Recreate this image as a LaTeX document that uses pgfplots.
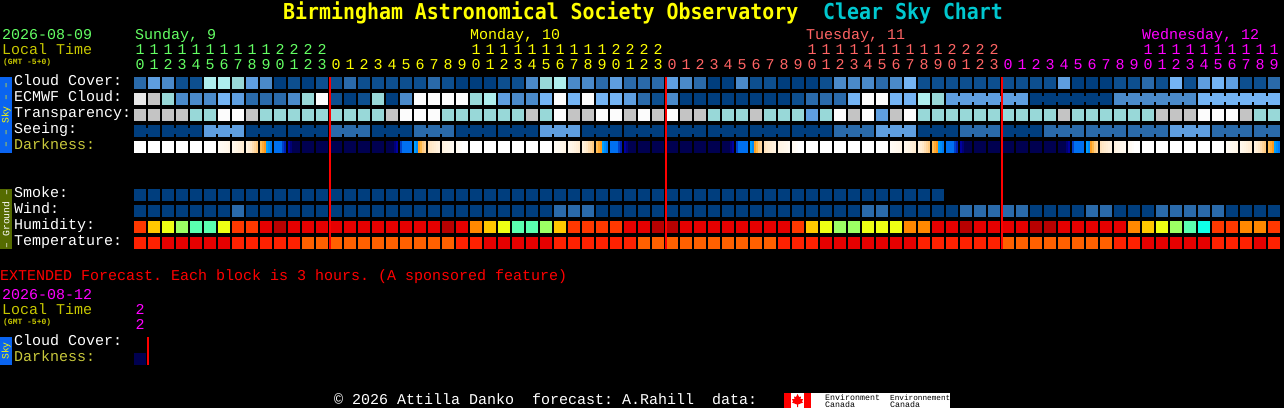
\documentclass[border=0pt]{standalone}
\usepackage{fontspec}
\setmainfont{Liberation Mono}
\newfontfamily\titlefont{DejaVu Sans Mono}
\usepackage{pgfplots}
\usepackage{pgfplotstable}
\pgfplotsset{compat=1.18}

\definecolor{daygreen}{RGB}{100,255,100}
\definecolor{dayyellow}{RGB}{255,255,0}
\definecolor{daypink}{RGB}{255,100,100}
\definecolor{daymag}{RGB}{255,0,255}
\definecolor{dimyellow}{RGB}{200,200,0}
\definecolor{darklabel}{RGB}{200,200,60}
\definecolor{skybar}{RGB}{10,100,240}
\definecolor{groundbar}{RGB}{85,107,0}
\definecolor{titlecyan}{RGB}{0,200,208}

% 0-10 sky scale, 11-19 humidity, 12/20/21 temperature
\pgfplotsset{colormap={csc}{
  rgb255=(0,62,126) rgb255=(13,79,143) rgb255=(42,106,170) rgb255=(74,138,202)
  rgb255=(94,158,224) rgb255=(116,180,244) rgb255=(152,216,216) rgb255=(174,238,238)
  rgb255=(196,196,196) rgb255=(232,232,232) rgb255=(252,252,252)
  rgb255=(184,0,0) rgb255=(230,0,0) rgb255=(255,56,0) rgb255=(255,136,0)
  rgb255=(255,200,0) rgb255=(238,255,20) rgb255=(156,255,100) rgb255=(90,255,176)
  rgb255=(15,255,232) rgb255=(255,32,0) rgb255=(255,96,0)}}
% darkness runs 0-10, the axis meta range is 0-21
\pgfplotsset{colormap={cscdark}{
  rgb255(0pt)=(0,0,80) rgb255(1pt)=(0,0,160) rgb255(2pt)=(0,64,200) rgb255(3pt)=(0,112,240)
  rgb255(4pt)=(0,160,255) rgb255(5pt)=(255,152,24) rgb255(6pt)=(255,184,72) rgb255(7pt)=(255,208,144)
  rgb255(8pt)=(255,232,200) rgb255(9pt)=(255,245,230) rgb255(10pt)=(255,255,255) rgb255(21pt)=(255,255,255)}}

\pgfdeclareplotmark{cell}{\pgfpathrectangle{\pgfpoint{-6pt}{-6pt}}{\pgfpoint{12pt}{12pt}}\pgfusepathqfill}
\pgfdeclareplotmark{slice}{\pgfpathrectangle{\pgfpoint{-1.2pt}{-6pt}}{\pgfpoint{2.4pt}{12pt}}\pgfusepathqfill}
\pgfdeclareplotmark{bridge}{\pgfpathrectangle{\pgfpoint{-1.2pt}{-3pt}}{\pgfpoint{2.4pt}{6pt}}\pgfusepathqfill}

\pgfplotsset{
  canvas/.style={
    at={(0pt,0pt)}, anchor=north west,
    width=1284pt, height=408pt, scale only axis,
    xmin=-10, xmax=81.7142857,
    ymin=-5.1875, ymax=20.3125,
    y dir=reverse,
    point meta min=0, point meta max=21,
    hide axis, clip=false},
  blocks/.style={only marks, scatter, mark=#1, point meta=explicit,
    scatter/use mapped color={fill=mapped color}},
  sky/.style={blocks=cell, colormap name=csc},
  joins/.style={blocks=bridge, colormap name=csc},
  dusk/.style={blocks=slice, colormap name=cscdark},
}

% i = hour block, sj/ej = block joined to the next one (3 hour seeing, 6 hour ecmwf)
\pgfplotstableread{
i  cloud ecmwf transp seeing smoke wind humid temp sj ej
0  2  9  8  0 0 0 13 20 1 0
1  4  8  8  0 0 0 15 20 0 0
2  3  6  8  0 0 0 16 12 1 0
3  1  3  8  0 0 0 17 12 1 0
4  1  3  6  0 0 0 18 12 0 0
5  7  3  6  4 0 0 18 12 1 0
6  7  5  10 4 0 0 16 12 1 0
7  6  4  10 4 0 2 13 20 0 0
8  4  2  8  0 0 0 13 20 1 0
9  3  2  6  0 0 0 12 20 1 0
10 0  2  6  0 0 0 11 20 0 0
11 1  3  6  0 0 0 12 20 1 0
12 0  6  6  0 0 0 12 21 1 0
13 1  10 6  0 0 0 12 21 0 0
14 1  1  6  2 0 0 12 21 1 0
15 2  0  6  2 0 0 12 21 1 0
16 1  1  6  2 0 0 12 21 0 0
17 1  6  6  0 0 0 12 21 1 0
18 1  0  8  0 0 0 12 21 1 0
19 1  3  10 0 0 0 12 21 0 0
20 1  10 10 2 0 0 12 21 1 0
21 2  10 10 2 0 0 12 21 1 0
22 1  10 6  2 0 0 11 21 0 0
23 0  10 6  0 0 0 12 20 1 0
24 0  6  6  0 0 0 14 20 1 0
25 0  7  6  0 0 0 15 12 0 0
26 1  4  6  0 0 0 16 12 1 0
27 1  3  6  0 0 0 18 12 1 0
28 3  3  8  0 0 0 18 12 0 0
29 6  5  6  4 0 0 17 12 1 0
30 7  10 10 4 0 2 15 20 1 0
31 3  5  8  4 0 2 13 20 0 0
32 3  10 8  0 0 2 13 20 1 0
33 2  5  10 0 0 0 13 20 1 0
34 4  5  10 0 0 0 13 20 0 0
35 2  4  8  0 0 0 12 20 1 0
36 2  2  10 0 0 0 12 21 1 0
37 2  1  8  0 0 0 11 21 0 0
38 4  3  10 0 0 0 11 21 1 0
39 3  0  8  0 0 0 12 21 1 0
40 2  0  8  0 0 0 12 21 0 0
41 0  0  6  0 0 0 12 21 1 0
42 0  0  6  0 0 0 12 21 1 0
43 3  0  6  0 0 0 12 21 0 0
44 1  0  8  0 0 0 12 21 1 0
45 1  0  6  0 0 0 12 21 1 0
46 0  0  6  0 0 0 12 20 0 0
47 0  1  6  0 0 0 13 20 1 0
48 0  2  4  0 0 0 15 20 1 0
49 1  2  6  0 0 0 16 12 0 0
50 3  2  10 2 0 0 17 12 1 0
51 3  5  8  2 0 0 17 12 1 0
52 3  10 10 2 0 2 16 12 0 0
53 2  10 4  4 0 2 16 12 1 0
54 3  5  8  4 0 0 16 12 1 0
55 5  5  10 4 0 0 14 12 0 0
56 1  7  6  0 0 0 14 20 1 0
57 1  6  6  0 0 0 12 20 1 0
58 1  4  6  0 0 0 12 20 0 1
59 1  4  6  2 0 2 11 20 1 1
60 1  4  6  2 0 2 12 20 1 1
61 1  4  6  2 0 2 12 20 0 1
62 1  4  6  0 0 2 12 21 1 1
63 1  4  6  0 0 2 12 21 1 0
64 1  0  6  0 0 0 11 21 0 1
65 1  0  6  2 0 0 11 21 1 1
66 4  0  8  2 0 0 12 21 1 1
67 0  0  6  2 0 0 12 21 0 1
68 0  0  6  2 0 2 12 21 1 1
69 0  0  6  2 0 2 12 21 1 0
70 1  3  6  2 0 0 12 20 0 1
71 1  3  6  2 0 0 14 20 1 1
72 2  3  6  2 0 0 15 12 1 1
73 1  3  8  2 0 2 16 12 0 1
74 5  3  8  4 0 2 17 12 1 1
75 1  3  8  4 0 2 18 12 1 0
76 4  5  10 4 0 2 19 12 0 1
77 5  5  10 2 0 2 13 20 1 1
78 4  5  10 2 0 0 13 20 1 1
79 1  5  8  2 0 0 14 20 0 1
80 1  5  6  2 0 0 14 12 1 1
81 2  5  6  2 0 0 13 20 0 0
}\csctable

% darkness, six slices to a block
\pgfplotstableread{
i  a b c d e f
0  10 10 10 10 10 10
1  10 10 10 10 10 10
2  10 10 10 10 10 10
3  10 10 10 10 10 10
4  10 10 10 10 10 10
5  10 10 10 10 10 10
6  9.6 9.5 9.4 9.3 9.2 9.0
7  9.3 9.1 8.9 8.7 8.5 8.3
8  8.8 8.4 8.0 7.6 7.2 6.8
9  6.2 5.6 5.0 4.0 3.6 3.2
10 3 3 3 3 2 1.5
11 1 .5 0 0 0 0
12 0 0 0 0 0 0
13 0 0 0 0 0 0
14 0 0 0 0 0 0
15 0 0 0 0 0 0
16 0 0 0 0 0 0
17 0 0 0 0 0 0
18 0 0 0 0 .5 1
19 2 3 3 3 3 3
20 4 3.5 5.2 6 6.8 7.2
21 7.8 8 8.2 8.4 8.6 8.8
22 8.8 9 9.1 9.2 9.3 9.5
23 9.5 9.6 9.8 10 10 10
24 10 10 10 10 10 10
25 10 10 10 10 10 10
26 10 10 10 10 10 10
27 10 10 10 10 10 10
28 10 10 10 10 10 10
29 10 10 10 10 10 10
30 9.6 9.5 9.4 9.3 9.2 9.0
31 9.3 9.1 8.9 8.7 8.5 8.3
32 8.8 8.4 8.0 7.6 7.2 6.8
33 6.2 5.6 5.0 4.0 3.6 3.2
34 3 3 3 3 2 1.5
35 1 .5 0 0 0 0
36 0 0 0 0 0 0
37 0 0 0 0 0 0
38 0 0 0 0 0 0
39 0 0 0 0 0 0
40 0 0 0 0 0 0
41 0 0 0 0 0 0
42 0 0 0 0 .5 1
43 2 3 3 3 3 3
44 4 3.5 5.2 6 6.8 7.2
45 7.8 8 8.2 8.4 8.6 8.8
46 8.8 9 9.1 9.2 9.3 9.5
47 9.5 9.6 9.8 10 10 10
48 10 10 10 10 10 10
49 10 10 10 10 10 10
50 10 10 10 10 10 10
51 10 10 10 10 10 10
52 10 10 10 10 10 10
53 10 10 10 10 10 10
54 9.6 9.5 9.4 9.3 9.2 9.0
55 9.3 9.1 8.9 8.7 8.5 8.3
56 8.8 8.4 8.0 7.6 7.2 6.8
57 6.2 5.6 5.0 4.0 3.6 3.2
58 3 3 3 3 2 1.5
59 1 .5 0 0 0 0
60 0 0 0 0 0 0
61 0 0 0 0 0 0
62 0 0 0 0 0 0
63 0 0 0 0 0 0
64 0 0 0 0 0 0
65 0 0 0 0 0 0
66 0 0 0 0 .5 1
67 2 3 3 3 3 3
68 4 3.5 5.2 6 6.8 7.2
69 7.8 8 8.2 8.4 8.6 8.8
70 8.8 9 9.1 9.2 9.3 9.5
71 9.5 9.6 9.8 10 10 10
72 10 10 10 10 10 10
73 10 10 10 10 10 10
74 10 10 10 10 10 10
75 10 10 10 10 10 10
76 10 10 10 10 10 10
77 10 10 10 10 10 10
78 9.6 9.5 9.4 9.3 9.2 9.0
79 9.3 9.1 8.9 8.7 8.5 8.3
80 8.8 8.4 8.0 7.6 7.2 6.8
81 6.2 5.6 5.0 4.0 3.6 3.2
}\darktable

\newcommand{\fs}[1]{\fontsize{#1}{#1}\selectfont}
% text at a pixel position, baseline given
\newcommand{\lbl}[4]{\node[anchor=base west,inner sep=0pt,yshift=1pt,text=#1,font=\fs{15}] at (#2,#3) {#4};}

\begin{document}
\frenchspacing
\begin{tikzpicture}
\begin{scope}[x=1pt,y=-1pt]
\fill[black] (0,0) rectangle (1284,408);
\path[use as bounding box] (0,0) rectangle (1284,408);
\end{scope}

\begin{axis}[canvas]
% sky rows
\addplot[sky] table[x=i, y expr=0, meta=cloud] {\csctable};
\addplot[sky] table[x=i, y expr=1, meta=ecmwf] {\csctable};
\addplot[joins, restrict expr to domain={\thisrow{ej}}{1:1}] table[x expr=\thisrow{i}+0.5, y expr=1, meta=ecmwf] {\csctable};
\addplot[sky] table[x=i, y expr=2, meta=transp] {\csctable};
\addplot[sky] table[x=i, y expr=3, meta=seeing] {\csctable};
\addplot[joins, restrict expr to domain={\thisrow{sj}}{1:1}] table[x expr=\thisrow{i}+0.5, y expr=3, meta=seeing] {\csctable};
% darkness
\addplot[dusk] table[x expr=\thisrow{i}-5/14, y expr=4, meta=a] {\darktable};
\addplot[dusk] table[x expr=\thisrow{i}-3/14, y expr=4, meta=b] {\darktable};
\addplot[dusk] table[x expr=\thisrow{i}-1/14, y expr=4, meta=c] {\darktable};
\addplot[dusk] table[x expr=\thisrow{i}+1/14, y expr=4, meta=d] {\darktable};
\addplot[dusk] table[x expr=\thisrow{i}+3/14, y expr=4, meta=e] {\darktable};
\addplot[dusk] table[x expr=\thisrow{i}+5/14, y expr=4, meta=f] {\darktable};
% ground rows
\addplot[sky, restrict x to domain=0:57] table[x=i, y expr=7, meta=smoke] {\csctable};
\addplot[sky] table[x=i, y expr=8, meta=wind] {\csctable};
\addplot[sky] table[x=i, y expr=9, meta=humid] {\csctable};
\addplot[sky] table[x=i, y expr=10, meta=temp] {\csctable};
% extended forecast
\addplot[dusk] coordinates {(-0.3571,17.25) [0] (-0.2143,17.25) [0] (-0.0714,17.25) [0] (0.0714,17.25) [0] (0.2143,17.25) [0] (0.3571,17.25) [0]};
\end{axis}

% midnight lines go over the blocks, marks always land above lines of one axis
\begin{axis}[canvas]
\addplot[red, line width=2pt] coordinates {(13.5714,-0.375) (13.5714,10.375)};
\addplot[red, line width=2pt] coordinates {(37.5714,-0.375) (37.5714,10.375)};
\addplot[red, line width=2pt] coordinates {(61.5714,-0.375) (61.5714,10.375)};
\addplot[red, line width=2pt] coordinates {(0.5714,15.875) (0.5714,17.625)};
\end{axis}

\begin{scope}[x=1pt,y=-1pt]
% title
\node[anchor=base west,inner sep=0pt,text=dayyellow,font=\fs{19.9}\titlefont\bfseries] at (283,19) {\scalebox{1}[1.1]{Birmingham Astronomical Society Observatory}};
\node[anchor=base west,inner sep=0pt,text=titlecyan,font=\fs{19.9}\titlefont\bfseries] at (823,19) {\scalebox{1}[1.1]{Clear Sky Chart}};
% header
\lbl{daygreen}{2}{40}{2026-08-09}
\lbl{dimyellow}{2}{55}{Local Time}
\node[anchor=base west,inner sep=0pt,text=dimyellow,font=\fs{8}\bfseries] at (3,64) {(GMT -5+0)};
\lbl{daygreen}{135}{40}{Sunday, 9}
\lbl{dayyellow}{470}{40}{Monday, 10}
\lbl{daypink}{806}{40}{Tuesday, 11}
\lbl{daymag}{1142}{40}{Wednesday, 12}
% hour digits
\foreach \c in {0,...,81}{
  \pgfmathtruncatemacro{\h}{mod(\c+10,24)}
  \pgfmathtruncatemacro{\tens}{\h/10}
  \pgfmathtruncatemacro{\units}{mod(\h,10)}
  \ifnum\c<14 \def\dc{daygreen}\else\ifnum\c<38 \def\dc{dayyellow}\else\ifnum\c<62 \def\dc{daypink}\else\def\dc{daymag}\fi\fi\fi
  \pgfmathsetmacro{\px}{140+14*\c}
  \ifnum\h>9 \node[anchor=base,inner sep=0pt,yshift=1pt,text=\dc,font=\fs{15}] at (\px,55) {\tens};\fi
  \node[anchor=base,inner sep=0pt,yshift=1pt,text=\dc,font=\fs{15}] at (\px,70) {\units};
}
% row labels
\lbl{white}{14}{86}{Cloud Cover:}
\lbl{white}{14}{102}{ECMWF Cloud:}
\lbl{white}{14}{118}{Transparency:}
\lbl{white}{14}{134}{Seeing:}
\lbl{darklabel}{14}{150}{Darkness:}
\lbl{white}{14}{198}{Smoke:}
\lbl{white}{14}{214}{Wind:}
\lbl{white}{14}{230}{Humidity:}
\lbl{white}{14}{246}{Temperature:}
% side bars
\fill[skybar] (0,77) rectangle (12,153);
\node[rotate=90,inner sep=0pt,text=dayyellow,font=\fs{9.7}] at (6,115) {– – Sky – –};
\fill[groundbar] (0,189) rectangle (12,249);
\node[rotate=90,inner sep=0pt,text=white,font=\fs{9.7}] at (6,219) {– Ground –};
% extended
\lbl{red}{0}{281}{EXTENDED Forecast. Each block is 3 hours. (A sponsored feature)}
\lbl{daymag}{2}{300}{2026-08-12}
\lbl{dimyellow}{2}{315}{Local Time}
\node[anchor=base west,inner sep=0pt,text=dimyellow,font=\fs{8}\bfseries] at (3,324) {(GMT -5+0)};
\node[anchor=base,inner sep=0pt,yshift=1pt,text=daymag,font=\fs{15}] at (140,315) {2};
\node[anchor=base,inner sep=0pt,yshift=1pt,text=daymag,font=\fs{15}] at (140,330) {2};
\lbl{white}{14}{346}{Cloud Cover:}
\lbl{darklabel}{14}{362}{Darkness:}
\fill[skybar] (0,337) rectangle (12,365);
\node[rotate=90,inner sep=0pt,text=dayyellow,font=\fs{9.7}] at (6,351) {Sky};
% footer
\lbl{white}{334}{405}{© 2026 Attilla Danko~~forecast: A.Rahill~~data:}
\fill[white] (784,393) rectangle (950,408);
\fill[red] (784,393) rectangle (791,408);
\fill[red] (804,393) rectangle (811,408);
\fill[red] (797.5,394) -- (799,397) -- (801,396.5) -- (800.5,399) -- (803,399) -- (802,401.5) -- (803,402.5) -- (798,404.5) -- (798,407) -- (797,407) -- (797,404.5) -- (792,402.5) -- (793,401.5) -- (792,399) -- (794.5,399) -- (794,396.5) -- (796,397) -- cycle;
\node[anchor=base west,inner sep=0pt,text=black,font=\fs{8.3}] at (825,400) {Environment};
\node[anchor=base west,inner sep=0pt,text=black,font=\fs{8.3}] at (825,407.5) {Canada};
\node[anchor=base west,inner sep=0pt,text=black,font=\fs{7.7}] at (890,400) {Environnement};
\node[anchor=base west,inner sep=0pt,text=black,font=\fs{8.3}] at (890,407.5) {Canada};
\end{scope}
\end{tikzpicture}
\end{document}
